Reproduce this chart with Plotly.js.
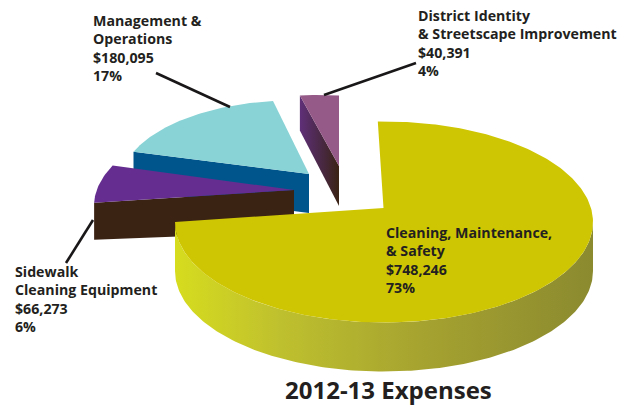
<!DOCTYPE html>
<html><head><meta charset="utf-8">
<script src="https://cdn.plot.ly/plotly-3.0.1.min.js"></script>
<style>html,body{margin:0;padding:0;background:#fff}</style>
</head><body><div id="chart" style="width:635px;height:406px"></div>
<script>
const categories = ["Cleaning, Maintenance,<br>& Safety", "Management &<br>Operations", "Sidewalk<br>Cleaning Equipment", "District Identity<br>& Streetscape Improvement"];
const amounts = [748246, 180095, 66273, 40391];
const percents = [73, 17, 6, 4];
const chartTitle = "2012-13 Expenses";

const total = amounts.reduce((a, b) => a + b, 0);
const FONT = "'Open Sans', 'Noto Sans', sans-serif";
const INK = "#231F20";

// per-slice drawing of a perspective-tilted, exploded pie
const geo = [
  {cx:384, cy:222, a:209, b:100.5, start:-1.7, scale:1.044, apex:[383.5,208], depth:49, top:"#CFC603"},
  {cx:292.5, cy:183.5, a:172, b:83, start:-6.5, scale:-0.975, apex:[309,174], depth:39, top:"#89D3D6", side:"#00558C"},
  {cx:293, cy:206, a:199, b:95.6, start:-65, scale:-1, apex:[294,190], depth:37, top:"#652D90", side:"#3B2314"},
  {cx:319.5, cy:172, a:160, b:77, start:7, scale:-1, apex:[339,166], depth:40, top:"#955A87"}
];
const labelPos = [[385,222],[92,10],[14,261],[417,5]];

function arc(g, t0, t1) {
  const xs = [], ys = [], n = Math.max(2, Math.ceil(Math.abs(t1 - t0)));
  for (let i = 0; i <= n; i++) {
    const t = (t0 + (t1 - t0) * i / n) * Math.PI / 180;
    xs.push(g.cx + g.a * Math.sin(t));
    ys.push(g.cy - g.b * Math.cos(t));
  }
  return [xs, ys];
}
function poly(xs, ys, color, extra) {
  return Object.assign({x: xs, y: ys, type: "scatter", mode: "lines", fill: "toself",
    fillcolor: color, line: {width: 0, color: color}, hoverinfo: "skip", showlegend: false}, extra || {});
}
function slice(i) {
  const g = geo[i];
  const sweep = amounts[i] / total * 360 * g.scale;
  const [xs, ys] = arc(g, g.start, g.start + sweep);
  return {g, t1: g.start + sweep, xs, ys};
}
const traces = [];

// District Identity: wall then top
{
  const s = slice(3), g = s.g;
  const L = s.xs[s.xs.length - 1], Ly = s.ys[s.ys.length - 1];
  traces.push(poly([L, g.apex[0], g.apex[0], L, L], [Ly, g.apex[1], g.apex[1] + g.depth, Ly + 35, Ly], "#5B2E70",
    {fillgradient: {type: "horizontal", start: L, stop: g.apex[0], colorscale: [[0, "#5F2F78"], [0.6, "#47283F"], [1, "#3B2314"]]}}));
  traces.push(poly([...s.xs, g.apex[0], s.xs[0]], [...s.ys, g.apex[1], s.ys[0]], g.top));
}
// Management, then Sidewalk: front wall then top
for (const i of [1, 2]) {
  const s = slice(i), g = s.g;
  const L = s.xs[s.xs.length - 1], Ly = s.ys[s.ys.length - 1];
  traces.push(poly([L, g.apex[0], g.apex[0], L, L], [Ly, g.apex[1], g.apex[1] + g.depth + (i === 2 ? 5 : 0), Ly + g.depth, Ly], g.side));
  traces.push(poly([...s.xs, g.apex[0], s.xs[0]], [...s.ys, g.apex[1], s.ys[0]], g.top));
}
// Cleaning: curved wall then top
{
  const s = slice(0), g = s.g;
  const [wx, wy] = arc(g, 90, s.t1);
  const bx = wx.slice().reverse(), by = wy.slice().reverse().map(v => v + g.depth);
  traces.push(poly([...wx, ...bx, wx[0]], [...wy, ...by, wy[0]], "#B0AE2C",
    {fillgradient: {type: "horizontal", start: 176, stop: 593, colorscale: [[0, "#D6DC1E"], [0.25, "#BFC02E"], [0.6, "#A5A230"], [1, "#8B8A2F"]]}}));
  traces.push(poly([...s.xs, g.apex[0], s.xs[0]], [...s.ys, g.apex[1], s.ys[0]], g.top));
}

const leaders = [[[156,73],[230,107]], [[324,95],[416,63]], [[93,220],[66,263]]];
const shapes = leaders.map(([p, q]) => ({type: "line", xref: "x", yref: "y", x0: p[0], y0: p[1], x1: q[0], y1: q[1], line: {color: "#1A1718", width: 2.6}}));

const annotations = categories.map((c, i) => ({
  x: labelPos[i][0], y: labelPos[i][1], xref: "x", yref: "y", xanchor: "left", yanchor: "top", align: "left",
  showarrow: false, borderpad: 0, font: {family: FONT, size: 14.2, color: INK},
  text: "<b>" + c + "<br>$" + amounts[i].toLocaleString("en-US") + "<br>" + percents[i] + "%</b>"
}));
annotations.push({x: 388.5, y: 389.5, xref: "x", yref: "y", xanchor: "center", yanchor: "middle", showarrow: false,
  font: {family: FONT, size: 24, color: INK}, text: "<b>" + chartTitle + "</b>"});

Plotly.newPlot("chart", traces, {
  width: 635, height: 406, margin: {l: 0, r: 0, t: 0, b: 0},
  paper_bgcolor: "#fff", plot_bgcolor: "#fff", showlegend: false,
  xaxis: {range: [0, 635], visible: false, fixedrange: true},
  yaxis: {range: [406, 0], visible: false, fixedrange: true},
  shapes, annotations
}, {staticPlot: true, displayModeBar: false});
</script></body></html>
